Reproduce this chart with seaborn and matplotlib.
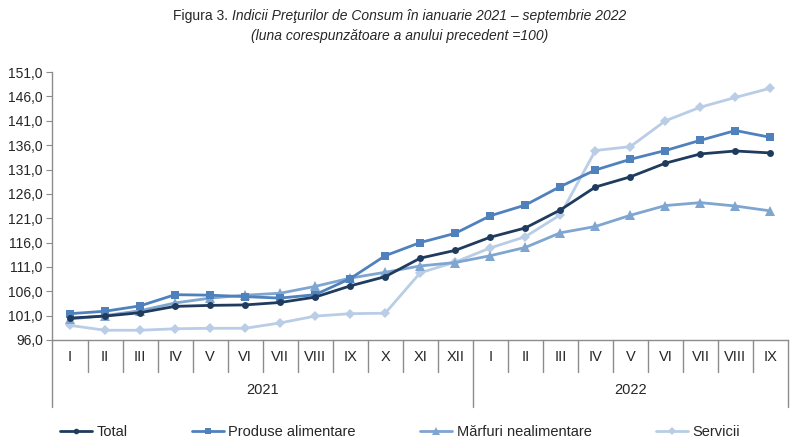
import matplotlib
matplotlib.use("Agg")
import matplotlib.pyplot as plt
import pandas as pd
import seaborn as sns
from matplotlib.lines import Line2D
from matplotlib.ticker import FuncFormatter

months = ["I", "II", "III", "IV", "V", "VI", "VII", "VIII", "IX", "X", "XI", "XII",
          "I", "II", "III", "IV", "V", "VI", "VII", "VIII", "IX"]
years = ["2021", "2022"]
year_len = [12, 9]

total = [100.5, 100.9, 101.6, 102.9, 103.1, 103.2, 103.7, 104.8, 107.1, 109.0, 112.8, 114.4,
         117.1, 119.0, 122.7, 127.4, 129.5, 132.3, 134.2, 134.8, 134.4]
produse = [101.4, 101.9, 103.0, 105.3, 105.2, 104.9, 104.6, 105.3, 108.6, 113.3, 116.0, 117.9,
           121.5, 123.7, 127.5, 130.9, 133.1, 134.9, 137.0, 139.0, 137.6]
marfuri = [100.3, 101.0, 102.0, 103.6, 104.6, 105.2, 105.6, 107.0, 108.7, 109.9, 111.2, 111.9,
           113.3, 115.0, 118.0, 119.3, 121.6, 123.6, 124.2, 123.5, 122.5]
servicii = [99.0, 98.0, 98.0, 98.3, 98.4, 98.4, 99.5, 100.9, 101.4, 101.5, 109.8, 112.0,
            114.9, 117.2, 121.7, 134.9, 135.7, 141.0, 143.8, 145.8, 147.7]

series = {
    "Total": total,
    "Produse alimentare": produse,
    "Mărfuri nealimentare": marfuri,
    "Servicii": servicii,
}
colors = {
    "Total": "#1f3b5e",
    "Produse alimentare": "#4f81bd",
    "Mărfuri nealimentare": "#7fa5d1",
    "Servicii": "#b9cde6",
}
markers = {
    "Total": "o",
    "Produse alimentare": "s",
    "Mărfuri nealimentare": "^",
    "Servicii": "D",
}
msizes = {"Total": 5, "Produse alimentare": 5.5, "Mărfuri nealimentare": 7, "Servicii": 5.5}

rows = []
for name, vals in series.items():
    for i, v in enumerate(vals):
        rows.append({"pos": i, "value": v, "serie": name})
df = pd.DataFrame(rows)

sns.set_style("white")
plt.rcParams["font.family"] = ["Liberation Sans", "DejaVu Sans"]

fig = plt.figure(figsize=(8, 4.45), dpi=100)
ax = fig.add_axes([0.0656, 0.236, 0.9194, 0.602])

# draw in reverse so Total ends up on top
for name in reversed(list(series)):
    sub = df[df["serie"] == name]
    sns.lineplot(data=sub, x="pos", y="value", ax=ax, color=colors[name],
                 marker=markers[name], markersize=msizes[name], markeredgewidth=0,
                 linewidth=2, label=name, legend=False)

ax.set_xlim(-0.5, len(months) - 0.5)
ax.set_ylim(96, 151)
ax.set_yticks(range(96, 152, 5))
ax.yaxis.set_major_formatter(FuncFormatter(lambda v, p: f"{v:.1f}".replace(".", ",")))
ax.set_xticks([])
ax.xaxis.label.set_visible(False)
ax.yaxis.label.set_visible(False)
for s in ["top", "right"]:
    ax.spines[s].set_visible(False)
for s in ["left", "bottom"]:
    ax.spines[s].set_color("#8c8c8c")
    ax.spines[s].set_linewidth(1)
ax.tick_params(axis="y", left=True, length=4, color="#8c8c8c", labelsize=10, pad=3)

ax.text(-0.1, 1.04, "%", transform=ax.get_yaxis_transform(), fontsize=10, ha="left")

# two-level category axis
trans = ax.get_xaxis_transform()
bounds = [0]
for n in year_len:
    bounds.append(bounds[-1] + n)
for i in range(len(months) + 1):
    long = i in bounds
    ax.add_line(Line2D([i - 0.5, i - 0.5], [0, -0.25 if long else -0.12], transform=trans,
                       color="#8c8c8c", linewidth=1, clip_on=False))
for i, m in enumerate(months):
    ax.text(i, -0.063, m, transform=trans, ha="center", va="center", fontsize=10.5)
for k, y in enumerate(years):
    mid = (bounds[k] + bounds[k + 1] - 1) / 2
    ax.text(mid, -0.187, y, transform=trans, ha="center", va="center", fontsize=10.5)

# title: normal + italic, centred as one line
t1 = fig.text(0.3, 0.955, "Figura 3. ", fontsize=10, ha="left", va="baseline")
t2 = ax.annotate("Indicii Preţurilor de Consum în ianuarie 2021 – septembrie 2022",
                 xy=(1, 0), xycoords=t1, va="bottom", ha="left", fontsize=10, style="italic")
fig.text(0.5, 0.91, "(luna corespunzătoare a anului precedent =100)", fontsize=10,
         ha="center", va="baseline", style="italic")
fig.canvas.draw()
r = fig.canvas.get_renderer()
w = t1.get_window_extent(r).width + t2.get_window_extent(r).width
t1.set_x(0.5 - w / 2 / fig.bbox.width)

handles = [Line2D([0], [0], color=colors[n], linewidth=2, marker=markers[n],
                  markersize=msizes[n] - 1, markeredgewidth=0) for n in series]
fig.legend(handles, list(series), loc="center", bbox_to_anchor=(0.5, 0.03), ncol=4,
           frameon=False, fontsize=10.5, handlelength=2.2, handletextpad=0.3,
           columnspacing=4.4, borderpad=0.2)

fig.savefig("out.png", dpi=100)
